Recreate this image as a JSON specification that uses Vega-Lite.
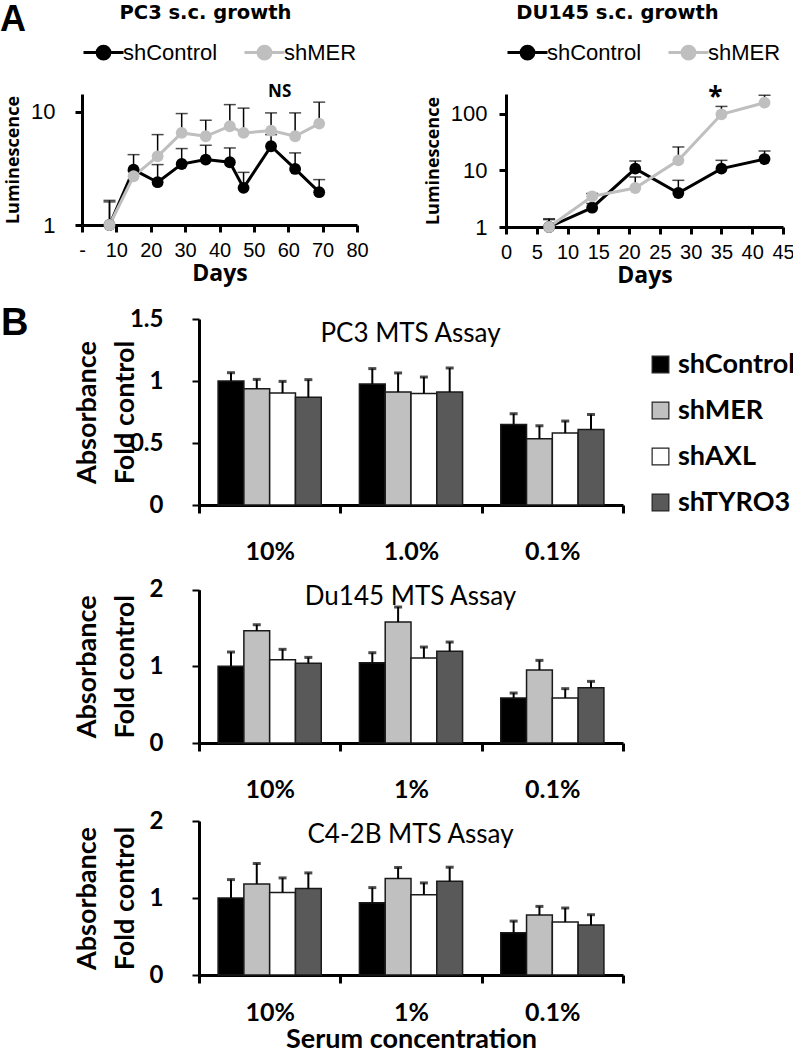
{
  "$schema": "https://vega.github.io/schema/vega-lite/v6.json",
  "background": "white",
  "padding": {"left": 0, "top": 1, "right": 0, "bottom": 0},
  "title": {"text": "A", "anchor": "start", "frame": "group", "font": "Liberation Sans", "fontSize": 36, "fontWeight": "bold", "color": "black", "offset": -36, "dx": -82},
  "datasets": {
    "pc3": [
      {"day": 8, "group": "shControl", "value": 1.0, "upper": 1.65},
      {"day": 15, "group": "shControl", "value": 3.09, "upper": 4.19},
      {"day": 22, "group": "shControl", "value": 2.39, "upper": 3.42},
      {"day": 29, "group": "shControl", "value": 3.46, "upper": 4.74},
      {"day": 36, "group": "shControl", "value": 3.79, "upper": 5.07},
      {"day": 43, "group": "shControl", "value": 3.59, "upper": 4.8},
      {"day": 47, "group": "shControl", "value": 2.13, "upper": 2.92},
      {"day": 55, "group": "shControl", "value": 4.97, "upper": 6.3},
      {"day": 62, "group": "shControl", "value": 3.13, "upper": 4.34},
      {"day": 69, "group": "shControl", "value": 1.95, "upper": 2.52},
      {"day": 8, "group": "shMER", "value": 1.0, "upper": 1.6},
      {"day": 15, "group": "shMER", "value": 2.7, "upper": 3.0},
      {"day": 22, "group": "shMER", "value": 4.05, "upper": 6.3},
      {"day": 29, "group": "shMER", "value": 6.52, "upper": 9.67},
      {"day": 36, "group": "shMER", "value": 6.09, "upper": 8.44},
      {"day": 43, "group": "shMER", "value": 7.47, "upper": 11.6},
      {"day": 47, "group": "shMER", "value": 6.52, "upper": 10.8},
      {"day": 55, "group": "shMER", "value": 6.83, "upper": 9.8},
      {"day": 62, "group": "shMER", "value": 6.09, "upper": 9.8},
      {"day": 69, "group": "shMER", "value": 7.88, "upper": 12.2}
    ],
    "pc3note": [{"day": 57.5, "y": 15.0, "label": "NS"}],
    "du": [
      {"day": 7, "group": "shControl", "value": 1.0, "upper": 1.4},
      {"day": 14, "group": "shControl", "value": 2.19, "upper": 2.6},
      {"day": 21, "group": "shControl", "value": 10.7, "upper": 14.6},
      {"day": 28, "group": "shControl", "value": 3.98, "upper": 6.66},
      {"day": 35, "group": "shControl", "value": 10.7, "upper": 15.0},
      {"day": 42, "group": "shControl", "value": 15.8, "upper": 21.9},
      {"day": 7, "group": "shMER", "value": 1.0, "upper": 1.35},
      {"day": 14, "group": "shMER", "value": 3.48, "upper": 3.9},
      {"day": 21, "group": "shMER", "value": 4.88, "upper": 7.6},
      {"day": 28, "group": "shMER", "value": 15.0, "upper": 25.8},
      {"day": 35, "group": "shMER", "value": 97.3, "upper": 134},
      {"day": 42, "group": "shMER", "value": 156, "upper": 211}
    ],
    "dunote": [{"day": 34, "y": 190, "label": "*"}],
    "mts": [
      {"assay": "PC3", "serum": "10%", "group": "shControl", "value": 1.0, "upper": 1.067},
      {"assay": "PC3", "serum": "10%", "group": "shMER", "value": 0.938, "upper": 1.013},
      {"assay": "PC3", "serum": "10%", "group": "shAXL", "value": 0.903, "upper": 0.997},
      {"assay": "PC3", "serum": "10%", "group": "shTYRO3", "value": 0.868, "upper": 1.011},
      {"assay": "PC3", "serum": "1.0%", "group": "shControl", "value": 0.976, "upper": 1.1},
      {"assay": "PC3", "serum": "1.0%", "group": "shMER", "value": 0.911, "upper": 1.065},
      {"assay": "PC3", "serum": "1.0%", "group": "shAXL", "value": 0.9, "upper": 1.032},
      {"assay": "PC3", "serum": "1.0%", "group": "shTYRO3", "value": 0.911, "upper": 1.105},
      {"assay": "PC3", "serum": "0.1%", "group": "shControl", "value": 0.65, "upper": 0.736},
      {"assay": "PC3", "serum": "0.1%", "group": "shMER", "value": 0.534, "upper": 0.639},
      {"assay": "PC3", "serum": "0.1%", "group": "shAXL", "value": 0.58, "upper": 0.677},
      {"assay": "PC3", "serum": "0.1%", "group": "shTYRO3", "value": 0.609, "upper": 0.73},
      {"assay": "Du145", "serum": "10%", "group": "shControl", "value": 1.0, "upper": 1.187},
      {"assay": "Du145", "serum": "10%", "group": "shMER", "value": 1.465, "upper": 1.543},
      {"assay": "Du145", "serum": "10%", "group": "shAXL", "value": 1.087, "upper": 1.222},
      {"assay": "Du145", "serum": "10%", "group": "shTYRO3", "value": 1.039, "upper": 1.117},
      {"assay": "Du145", "serum": "1%", "group": "shControl", "value": 1.048, "upper": 1.178},
      {"assay": "Du145", "serum": "1%", "group": "shMER", "value": 1.578, "upper": 1.774},
      {"assay": "Du145", "serum": "1%", "group": "shAXL", "value": 1.109, "upper": 1.252},
      {"assay": "Du145", "serum": "1%", "group": "shTYRO3", "value": 1.196, "upper": 1.317},
      {"assay": "Du145", "serum": "0.1%", "group": "shControl", "value": 0.587, "upper": 0.652},
      {"assay": "Du145", "serum": "0.1%", "group": "shMER", "value": 0.952, "upper": 1.078},
      {"assay": "Du145", "serum": "0.1%", "group": "shAXL", "value": 0.587, "upper": 0.709},
      {"assay": "Du145", "serum": "0.1%", "group": "shTYRO3", "value": 0.722, "upper": 0.804},
      {"assay": "C4-2B", "serum": "10%", "group": "shControl", "value": 1.0, "upper": 1.239},
      {"assay": "C4-2B", "serum": "10%", "group": "shMER", "value": 1.183, "upper": 1.448},
      {"assay": "C4-2B", "serum": "10%", "group": "shAXL", "value": 1.07, "upper": 1.261},
      {"assay": "C4-2B", "serum": "10%", "group": "shTYRO3", "value": 1.122, "upper": 1.326},
      {"assay": "C4-2B", "serum": "1%", "group": "shControl", "value": 0.939, "upper": 1.135},
      {"assay": "C4-2B", "serum": "1%", "group": "shMER", "value": 1.252, "upper": 1.396},
      {"assay": "C4-2B", "serum": "1%", "group": "shAXL", "value": 1.043, "upper": 1.196},
      {"assay": "C4-2B", "serum": "1%", "group": "shTYRO3", "value": 1.217, "upper": 1.4},
      {"assay": "C4-2B", "serum": "0.1%", "group": "shControl", "value": 0.548, "upper": 0.7},
      {"assay": "C4-2B", "serum": "0.1%", "group": "shMER", "value": 0.778, "upper": 0.891},
      {"assay": "C4-2B", "serum": "0.1%", "group": "shAXL", "value": 0.687, "upper": 0.87},
      {"assay": "C4-2B", "serum": "0.1%", "group": "shTYRO3", "value": 0.648, "upper": 0.783}
    ]
  },
  "vconcat": [
    {
      "hconcat": [
        {
          "width": 275, "height": 131,
          "data": {"name": "pc3"},
          "title": {"text": "PC3 s.c. growth", "font": "DejaVu Sans", "fontSize": 19.5, "fontWeight": "bold", "color": "black", "dx": -14, "offset": 8},
          "encoding": {
            "x": {"field": "day", "type": "quantitative", "scale": {"domain": [0, 80], "nice": false},
                  "axis": {"title": "Days", "values": [0, 10, 20, 30, 40, 50, 60, 70, 80], "labelExpr": "datum.value == 0 ? '-' : datum.label", "labelFont": "Liberation Sans", "labelFontSize": 20, "labelColor": "black", "labelPadding": 8, "labelFlush": false, "labelOverlap": false, "titleFont": "Open Sans", "titleFontSize": 23, "titleFontWeight": "bold", "titleColor": "black", "titlePadding": 2, "domainColor": "black", "domainWidth": 3, "tickColor": "black", "tickWidth": 3, "tickSize": 7, "grid": false}},
            "y": {"field": "value", "type": "quantitative", "scale": {"type": "log", "domain": [1, 14.4], "nice": false},
                  "axis": {"title": "Luminescence", "values": [1, 10], "labelExpr": "datum.value + ''", "labelFont": "Liberation Sans", "labelFontSize": 22, "labelColor": "black", "labelPadding": 20, "titleFont": "Open Sans", "titleFontSize": 18, "titleFontWeight": "bold", "titleColor": "black", "titlePadding": 8, "domainColor": "black", "domainWidth": 3, "tickColor": "black", "tickWidth": 3, "tickSize": 7, "grid": false}}
          },
          "layer": [
            {"mark": {"type": "rule", "color": "black", "strokeWidth": 1.5}, "encoding": {"y2": {"field": "upper"}}},
            {"mark": {"type": "tick", "orient": "horizontal", "color": "black", "size": 12, "thickness": 1.5},
             "encoding": {"y": {"field": "upper", "type": "quantitative", "title": "Luminescence"}}},
            {"mark": {"type": "line", "strokeWidth": 3},
             "encoding": {
               "color": {"field": "group", "type": "nominal", "scale": {"domain": ["shControl", "shMER"], "range": ["#000000", "#bfbfbf"]},
                 "legend": {"title": null, "orient": "top", "direction": "horizontal", "symbolType": "M-1,0L1,0M0.32,0A0.32,0.32,0,1,1,-0.32,0A0.32,0.32,0,1,1,0.32,0Z", "symbolSize": 1600, "symbolStrokeWidth": 3, "labelFont": "Liberation Sans", "labelFontSize": 22, "labelColor": "black", "labelOffset": -2, "columnPadding": 20, "offset": 29}}}},
            {"mark": {"type": "point", "filled": true, "size": 140, "opacity": 1},
             "encoding": {
               "color": {"field": "group", "type": "nominal", "scale": {"domain": ["shControl", "shMER"], "range": ["#000000", "#bfbfbf"]},
                 "legend": {"title": null, "orient": "top", "direction": "horizontal", "symbolType": "M-1,0L1,0M0.32,0A0.32,0.32,0,1,1,-0.32,0A0.32,0.32,0,1,1,0.32,0Z", "symbolSize": 1600, "symbolStrokeWidth": 3, "labelFont": "Liberation Sans", "labelFontSize": 22, "labelColor": "black", "labelOffset": -2, "columnPadding": 20, "offset": 29}}}},
            {"data": {"name": "pc3note"}, "mark": {"type": "text", "font": "Open Sans", "fontWeight": "bold", "fontSize": 17, "baseline": "middle", "color": "black"},
             "encoding": {"y": {"field": "y", "type": "quantitative", "title": "Luminescence"}, "text": {"field": "label"}}}
          ]
        },
        {
          "width": 277, "height": 133,
          "data": {"name": "du"},
          "title": {"text": "DU145 s.c. growth", "font": "DejaVu Sans", "fontSize": 19.5, "fontWeight": "bold", "color": "black", "dx": -27, "offset": 8},
          "encoding": {
            "x": {"field": "day", "type": "quantitative", "scale": {"domain": [0, 45], "nice": false},
                  "axis": {"title": "Days", "values": [0, 5, 10, 15, 20, 25, 30, 35, 40, 45], "labelFont": "Liberation Sans", "labelFontSize": 20, "labelColor": "black", "labelPadding": 8, "labelFlush": false, "labelOverlap": false, "titleFont": "Open Sans", "titleFontSize": 23, "titleFontWeight": "bold", "titleColor": "black", "titlePadding": 2, "domainColor": "black", "domainWidth": 3, "tickColor": "black", "tickWidth": 3, "tickSize": 7, "grid": false}},
            "y": {"field": "value", "type": "quantitative", "scale": {"type": "log", "domain": [1, 222], "nice": false},
                  "axis": {"title": "Luminescence", "values": [1, 10, 100], "labelExpr": "datum.value + ''", "labelFont": "Liberation Sans", "labelFontSize": 22, "labelColor": "black", "labelPadding": 12, "titleFont": "Open Sans", "titleFontSize": 18, "titleFontWeight": "bold", "titleColor": "black", "titlePadding": 8, "domainColor": "black", "domainWidth": 3, "tickColor": "black", "tickWidth": 3, "tickSize": 7, "grid": false}}
          },
          "layer": [
            {"mark": {"type": "rule", "color": "black", "strokeWidth": 1.5}, "encoding": {"y2": {"field": "upper"}}},
            {"mark": {"type": "tick", "orient": "horizontal", "color": "black", "size": 12, "thickness": 1.5},
             "encoding": {"y": {"field": "upper", "type": "quantitative", "title": "Luminescence"}}},
            {"mark": {"type": "line", "strokeWidth": 3},
             "encoding": {
               "color": {"field": "group", "type": "nominal", "scale": {"domain": ["shControl", "shMER"], "range": ["#000000", "#bfbfbf"]},
                 "legend": {"title": null, "orient": "top", "direction": "horizontal", "symbolType": "M-1,0L1,0M0.32,0A0.32,0.32,0,1,1,-0.32,0A0.32,0.32,0,1,1,0.32,0Z", "symbolSize": 1600, "symbolStrokeWidth": 3, "labelFont": "Liberation Sans", "labelFontSize": 22, "labelColor": "black", "labelOffset": -2, "columnPadding": 20, "offset": 29}}}},
            {"mark": {"type": "point", "filled": true, "size": 140, "opacity": 1},
             "encoding": {
               "color": {"field": "group", "type": "nominal", "scale": {"domain": ["shControl", "shMER"], "range": ["#000000", "#bfbfbf"]},
                 "legend": {"title": null, "orient": "top", "direction": "horizontal", "symbolType": "M-1,0L1,0M0.32,0A0.32,0.32,0,1,1,-0.32,0A0.32,0.32,0,1,1,0.32,0Z", "symbolSize": 1600, "symbolStrokeWidth": 3, "labelFont": "Liberation Sans", "labelFontSize": 22, "labelColor": "black", "labelOffset": -2, "columnPadding": 20, "offset": 29}}}},
            {"data": {"name": "dunote"}, "mark": {"type": "text", "font": "Open Sans", "fontWeight": "bold", "fontSize": 26, "baseline": "middle", "color": "black"},
             "encoding": {"y": {"field": "y", "type": "quantitative", "title": "Luminescence"}, "text": {"field": "label"}}}
          ]
        }
      ],
      "spacing": 149,
      "bounds": "flush",
      "resolve": {"scale": {"color": "independent", "x": "independent", "y": "independent"}, "legend": {"color": "independent"}}
    },
    {
      "title": {"text": "B", "anchor": "start", "frame": "group", "font": "Liberation Sans", "fontSize": 38, "fontWeight": "bold", "color": "black", "offset": -36, "dx": -81},
      "vconcat": [
        {
          "width": 541, "height": 198,
          "data": {"name": "mts"},
          "transform": [{"filter": "datum.assay == 'PC3'"}],
          "title": {"text": "PC3 MTS Assay", "font": "Lato", "fontSize": 26, "fontWeight": "normal", "color": "black", "offset": -40, "dx": 58},
          "encoding": {
            "x": {"field": "serum", "type": "nominal", "sort": ["10%", "1.0%", "0.1%"], "scale": {"range": [117, 541], "paddingInner": 0, "paddingOuter": 0},
                  "axis": {"title": null, "labelAngle": 0, "labelFont": "Lato", "labelFontSize": 25, "labelFontWeight": "bold", "labelColor": "black", "labelPadding": 26, "domainColor": "black", "domainWidth": 3, "tickColor": "black", "tickWidth": 3, "tickSize": 8, "tickBand": "extent"}},
            "xOffset": {"field": "group", "type": "nominal", "sort": ["shControl", "shMER", "shAXL", "shTYRO3"], "scale": {"paddingInner": 0, "paddingOuter": 0.74}}
          },
          "layer": [
            {"mark": {"type": "bar", "stroke": "#1a1a1a", "strokeWidth": 1.5},
             "encoding": {
               "y": {"field": "value", "type": "quantitative", "scale": {"domain": [0, 1.5], "range": [198, 12], "nice": false},
                     "axis": {"offset": -117, "values": [0, 0.5, 1, 1.5], "labelExpr": "datum.value + ''", "title": ["Absorbance", "Fold control"], "titleFont": "Lato", "titleFontSize": 27, "titleFontWeight": "bold", "titleColor": "black", "titleLineHeight": 38, "titlePadding": -10, "labelFont": "Lato", "labelFontSize": 24, "labelFontWeight": "bold", "labelColor": "black", "labelPadding": 29, "domainColor": "black", "domainWidth": 3, "tickColor": "black", "tickWidth": 2, "tickSize": 7, "grid": false}},
               "color": {"field": "group", "type": "nominal", "sort": ["shControl", "shMER", "shAXL", "shTYRO3"], "scale": {"domain": ["shControl", "shMER", "shAXL", "shTYRO3"], "range": ["#000000", "#c0c0c0", "#ffffff", "#595959"]},
                 "legend": {"title": " ", "titleFontSize": 30, "titlePadding": 14, "orient": "right", "direction": "vertical", "symbolType": "square", "symbolSize": 280, "symbolStrokeColor": "#222222", "symbolStrokeWidth": 1.2, "symbolOpacity": 1, "labelFont": "Lato", "labelFontSize": 27, "labelFontWeight": "bold", "labelColor": "black", "labelOffset": 4, "rowPadding": 18, "offset": 24, "padding": 0}}}},
            {"mark": {"type": "rule", "color": "black", "strokeWidth": 2},
             "encoding": {"y": {"field": "value", "type": "quantitative"}, "y2": {"field": "upper"}}},
            {"mark": {"type": "tick", "orient": "horizontal", "color": "black", "size": 8, "thickness": 3},
             "encoding": {"y": {"field": "upper", "type": "quantitative"}}}
          ]
        },
        {
          "width": 541, "height": 160,
          "data": {"name": "mts"},
          "transform": [{"filter": "datum.assay == 'Du145'"}],
          "title": {"text": "Du145 MTS Assay", "font": "Lato", "fontSize": 26, "fontWeight": "normal", "color": "black", "offset": -32, "dx": 58},
          "encoding": {
            "x": {"field": "serum", "type": "nominal", "sort": ["10%", "1%", "0.1%"], "scale": {"range": [117, 541], "paddingInner": 0, "paddingOuter": 0},
                  "axis": {"title": null, "labelAngle": 0, "labelFont": "Lato", "labelFontSize": 25, "labelFontWeight": "bold", "labelColor": "black", "labelPadding": 26, "domainColor": "black", "domainWidth": 3, "tickColor": "black", "tickWidth": 3, "tickSize": 8, "tickBand": "extent"}},
            "xOffset": {"field": "group", "type": "nominal", "sort": ["shControl", "shMER", "shAXL", "shTYRO3"], "scale": {"paddingInner": 0, "paddingOuter": 0.74}}
          },
          "layer": [
            {"mark": {"type": "bar", "stroke": "#1a1a1a", "strokeWidth": 1.5},
             "encoding": {
               "y": {"field": "value", "type": "quantitative", "scale": {"domain": [0, 2], "range": [160, 6.7], "nice": false},
                     "axis": {"offset": -117, "values": [0, 1, 2], "labelExpr": "datum.value + ''", "title": ["Absorbance", "Fold control"], "titleFont": "Lato", "titleFontSize": 27, "titleFontWeight": "bold", "titleColor": "black", "titleLineHeight": 38, "titlePadding": 10, "labelFont": "Lato", "labelFontSize": 24, "labelFontWeight": "bold", "labelColor": "black", "labelPadding": 29, "domainColor": "black", "domainWidth": 3, "tickColor": "black", "tickWidth": 2, "tickSize": 7, "grid": false}},
               "color": {"field": "group", "type": "nominal", "sort": ["shControl", "shMER", "shAXL", "shTYRO3"], "scale": {"domain": ["shControl", "shMER", "shAXL", "shTYRO3"], "range": ["#000000", "#c0c0c0", "#ffffff", "#595959"]}, "legend": null}}},
            {"mark": {"type": "rule", "color": "black", "strokeWidth": 2},
             "encoding": {"y": {"field": "value", "type": "quantitative"}, "y2": {"field": "upper"}}},
            {"mark": {"type": "tick", "orient": "horizontal", "color": "black", "size": 8, "thickness": 3},
             "encoding": {"y": {"field": "upper", "type": "quantitative"}}}
          ]
        },
        {
          "width": 541, "height": 154,
          "data": {"name": "mts"},
          "transform": [{"filter": "datum.assay == 'C4-2B'"}],
          "title": {"text": "C4-2B MTS Assay", "font": "Lato", "fontSize": 26, "fontWeight": "normal", "color": "black", "offset": -39, "dx": 58},
          "encoding": {
            "x": {"field": "serum", "type": "nominal", "sort": ["10%", "1%", "0.1%"], "scale": {"range": [117, 541], "paddingInner": 0, "paddingOuter": 0},
                  "axis": {"title": "Serum concentration", "titleFont": "Lato", "titleFontSize": 27, "titleFontWeight": "bold", "titleColor": "black", "titlePadding": 1, "labelAngle": 0, "labelFont": "Lato", "labelFontSize": 25, "labelFontWeight": "bold", "labelColor": "black", "labelPadding": 17, "domainColor": "black", "domainWidth": 3, "tickColor": "black", "tickWidth": 3, "tickSize": 8, "tickBand": "extent"}},
            "xOffset": {"field": "group", "type": "nominal", "sort": ["shControl", "shMER", "shAXL", "shTYRO3"], "scale": {"paddingInner": 0, "paddingOuter": 0.74}}
          },
          "layer": [
            {"mark": {"type": "bar", "stroke": "#1a1a1a", "strokeWidth": 1.5},
             "encoding": {
               "y": {"field": "value", "type": "quantitative", "scale": {"domain": [0, 2], "nice": false},
                     "axis": {"offset": -117, "values": [0, 1, 2], "labelExpr": "datum.value + ''", "title": ["Absorbance", "Fold control"], "titleFont": "Lato", "titleFontSize": 27, "titleFontWeight": "bold", "titleColor": "black", "titleLineHeight": 38, "titlePadding": 10, "labelFont": "Lato", "labelFontSize": 24, "labelFontWeight": "bold", "labelColor": "black", "labelPadding": 29, "domainColor": "black", "domainWidth": 3, "tickColor": "black", "tickWidth": 2, "tickSize": 7, "grid": false}},
               "color": {"field": "group", "type": "nominal", "sort": ["shControl", "shMER", "shAXL", "shTYRO3"], "scale": {"domain": ["shControl", "shMER", "shAXL", "shTYRO3"], "range": ["#000000", "#c0c0c0", "#ffffff", "#595959"]}, "legend": null}}},
            {"mark": {"type": "rule", "color": "black", "strokeWidth": 2},
             "encoding": {"y": {"field": "value", "type": "quantitative"}, "y2": {"field": "upper"}}},
            {"mark": {"type": "tick", "orient": "horizontal", "color": "black", "size": 8, "thickness": 3},
             "encoding": {"y": {"field": "upper", "type": "quantitative"}}}
          ]
        }
      ],
      "spacing": 78,
      "bounds": "flush",
      "resolve": {"scale": {"color": "independent", "x": "independent", "y": "independent", "xOffset": "independent"}, "legend": {"color": "independent"}}
    }
  ],
  "spacing": 18,
  "bounds": "full",
  "resolve": {"scale": {"color": "independent"}, "legend": {"color": "independent"}},
  "config": {"view": {"stroke": null}, "font": "Liberation Sans"}
}
